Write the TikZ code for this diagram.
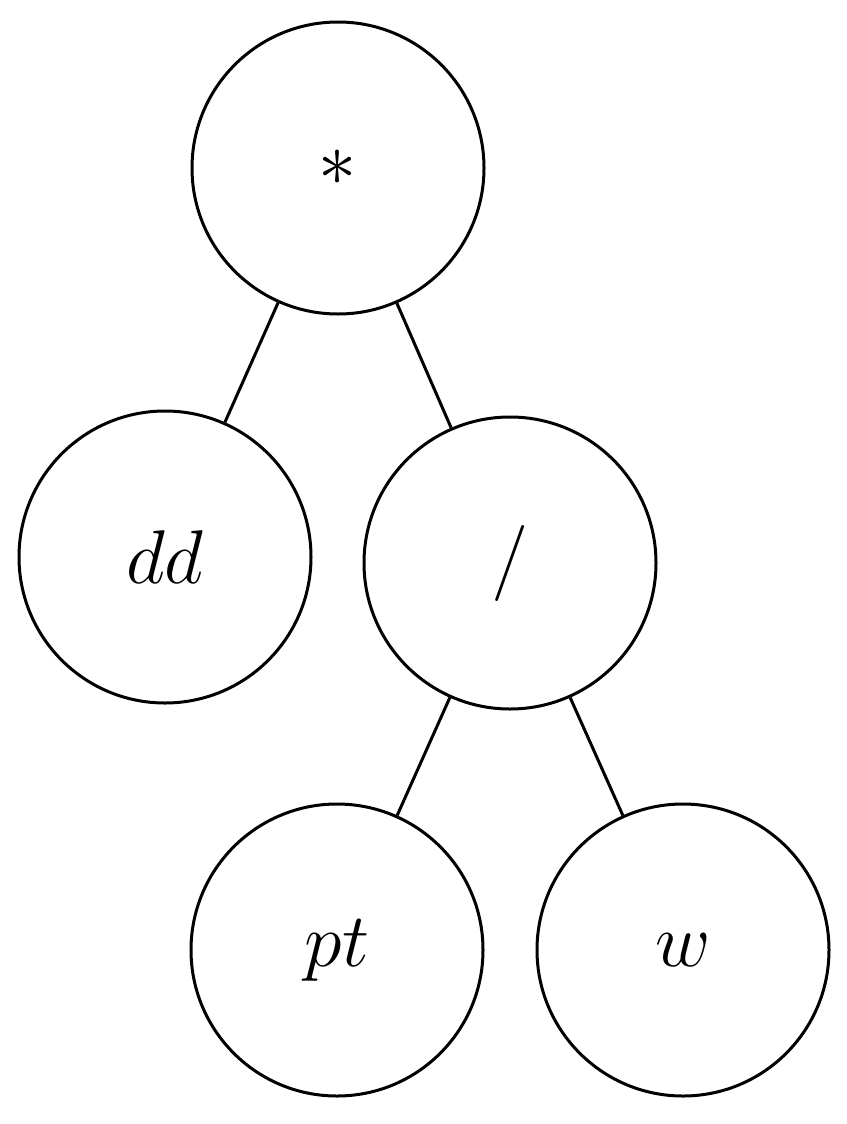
\documentclass[tikz,border=0pt]{standalone}
\usepackage{graphicx}
\begin{document}
\begin{tikzpicture}[x=0.5pt,y=-0.5pt,
  tn/.style={circle,draw,line width=1.5pt,minimum size=146pt,inner sep=0pt,font=\Huge},
  te/.style={line width=1.5pt}]
\useasboundingbox (0,0) rectangle (846,1124);
\node[tn] (root) at (338,168) {\scalebox{1.53}{$*$}};
\node[tn] (dd) at (165,557) {\scalebox{1.53}{$dd$}};
\node[tn] (div) at (510,563) {\scalebox{1.53}{$/$}};
\node[tn] (pt) at (337,950) {\scalebox{1.53}{$pt$}};
\node[tn] (w) at (683,950) {\scalebox{1.53}{$w$}};
\draw[te] (root) -- (dd);
\draw[te] (root) -- (div);
\draw[te] (div) -- (pt);
\draw[te] (div) -- (w);
\end{tikzpicture}
\end{document}
